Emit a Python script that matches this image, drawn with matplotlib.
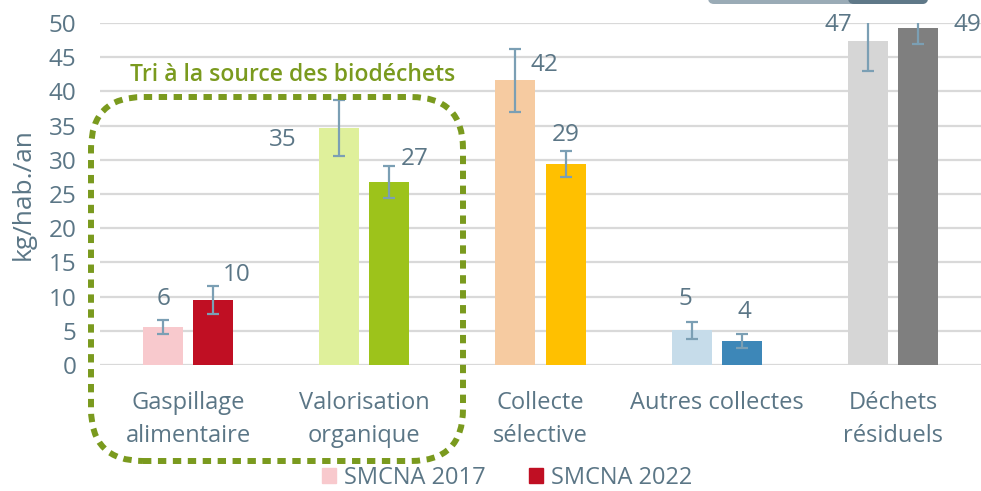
import matplotlib
matplotlib.use("Agg")
import matplotlib.pyplot as plt
from matplotlib.patches import FancyBboxPatch, Patch
from matplotlib.transforms import IdentityTransform
import numpy as np

# ---------------- data ----------------
categories = ["Gaspillage\nalimentaire", "Valorisation\norganique", "Collecte\nsélective",
              "Autres collectes", "Déchets\nrésiduels"]
values_2017 = [5.6, 34.6, 41.6, 5.1, 47.4]
values_2022 = [9.5, 26.7, 29.4, 3.5, 49.3]
err_2017 = [1.05, 4.1, 4.6, 1.25, 4.4]
err_2022 = [2.0, 2.35, 1.9, 1.05, 2.3]
series_names = ["SMCNA 2017", "SMCNA 2022"]
yticks = [0, 5, 10, 15, 20, 25, 30, 35, 40, 45, 50]
ylabel = "kg/hab./an"
group_title = "Tri à la source des biodéchets"

# ---------------- style ----------------
colors_2017 = ["#f8c9cd", "#dff09b", "#f6cba1", "#c6dcea", "#d6d6d6"]
colors_2022 = ["#c00f23", "#9dc31b", "#ffc000", "#3d87b8", "#7f7f7f"]
text_col = "#5b7686"
err_col = "#7b9fb4"
green = "#7a9a1e"
# label offsets (pixels) relative to bar top centre
off_2017 = [(0, -28), (-57, 12), (29, -15), (-6, -31), (-30, -16)]
off_2022 = [(24, -25), (25, -23), (0, -29), (3, -29), (49, -3)]

plt.rcParams['font.family'] = ['Open Sans', 'DejaVu Sans']

W, H = 981, 491
fig = plt.figure(figsize=(W / 100, H / 100), dpi=100)
ax = fig.add_axes([100 / W, 1 - 365 / H, 881 / W, 342 / H])

x = np.arange(len(categories))
bw = 0.227
d = 0.142
fs_txt = 17
fs_num = 17.5

ax.bar(x - d, values_2017, bw, color=colors_2017, zorder=2)
ax.bar(x + d, values_2022, bw, color=colors_2022, zorder=2)
ax.errorbar(x - d, values_2017, yerr=err_2017, fmt='none', ecolor=err_col,
            elinewidth=1.6, capsize=4.3, capthick=1.6, zorder=3)
ax.errorbar(x + d, values_2022, yerr=err_2022, fmt='none', ecolor=err_col,
            elinewidth=1.6, capsize=4.3, capthick=1.6, zorder=3)

for xs, vals, offs in [(x - d, values_2017, off_2017), (x + d, values_2022, off_2022)]:
    for xi, v, (dx, dy) in zip(xs, vals, offs):
        ax.annotate(f"{v:.0f}", (xi, v), xytext=(dx * 0.72, -dy * 0.72),
                    textcoords="offset points", ha="center", va="center",
                    fontsize=fs_num, color=text_col, zorder=4)

ax.set_xlim(-0.5, len(categories) - 0.5)
ax.set_ylim(0, 50)
ax.set_yticks(yticks)
ax.set_xticks(x)
ax.set_xticklabels(categories, linespacing=1.5, fontsize=fs_txt)
ax.tick_params(axis='both', length=0, colors=text_col)
ax.tick_params(axis='y', pad=17, labelsize=fs_num)
ax.tick_params(axis='x', pad=19)
ax.yaxis.grid(True, color="#d9d9d9", linewidth=1.6, zorder=0)
ax.set_axisbelow(True)
for s in ax.spines.values():
    s.set_visible(False)
fig.text(23 / W, 1 - 194 / H, ylabel, rotation=90, ha="center", va="center",
         fontsize=19, color=text_col)

# dotted rounded group box (pixel coords)
box = FancyBboxPatch((91, H - 461), 372, 364,
                     boxstyle="round,pad=0,rounding_size=52",
                     transform=IdentityTransform(), fill=False,
                     edgecolor=green, linewidth=4.3, linestyle=(0, (1.4, 1.1)),
                     capstyle='butt', zorder=5)
fig.patches.append(box)
fig.text(293 / W, 1 - 75 / H, group_title, ha="center", va="center",
         fontsize=16.5, fontweight="semibold", color=green)

# top gray button artifact
fig.patches.append(FancyBboxPatch((708, H - 4), 220, 12,
                                  boxstyle="round,pad=0,rounding_size=6",
                                  transform=IdentityTransform(), facecolor="#9aabb6",
                                  edgecolor="none"))
fig.patches.append(FancyBboxPatch((848, H - 4), 80, 12,
                                  boxstyle="round,pad=0,rounding_size=6",
                                  transform=IdentityTransform(), facecolor="#5f7888",
                                  edgecolor="none"))

handles = [Patch(color=colors_2017[0]), Patch(color=colors_2022[0])]
fig.legend(handles, series_names, loc="center", bbox_to_anchor=(507 / W, 1 - 478 / H),
           ncol=2, frameon=False, fontsize=fs_txt, labelcolor=text_col,
           handlelength=0.6, handleheight=0.6, handletextpad=0.35, columnspacing=1.8)

fig.savefig("out.png", dpi=100)
